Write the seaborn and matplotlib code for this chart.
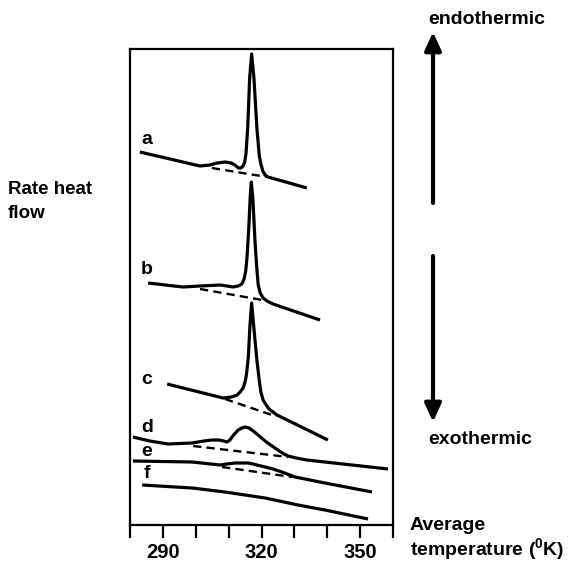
import numpy as np
import pandas as pd
import matplotlib
matplotlib.use("Agg")
import matplotlib.pyplot as plt
import seaborn as sns

# ---- data (temperature in K, heat-flow signal in arbitrary units) ----
a_T = [283.0, 301.3, 304.3, 306.5, 308.9, 310.8, 311.9, 313.0, 313.7, 314.4, 314.9, 315.3, 315.8, 316.4, 317.0, 317.7, 318.6, 319.3, 319.8, 320.4, 321.1, 322.0, 333.8]
a_S = [373, 359, 360, 362, 363, 362, 360, 357, 357, 359, 363, 372, 397, 447, 471, 447, 397, 370, 361, 354, 350, 348, 337]
a_base_T = [304.9, 321.7]
a_base_S = [357, 348]

b_T = [285.5, 296.1, 301.3, 307.4, 309.5, 311.3, 312.9, 314.0, 314.7, 315.2, 315.6, 316.1, 316.6, 316.9, 317.4, 318.0, 318.5, 319.0, 319.6, 320.5, 321.7, 323.5, 337.8]
b_S = [242, 238, 239, 240, 239, 238, 239, 241, 246, 254, 268, 295, 330, 343, 325, 285, 260, 240, 232, 227, 224, 221, 205]
b_base_T = [301.3, 320.2]
b_base_S = [236, 225]

c_T = [291.3, 308.3, 310.9, 312.6, 313.5, 314.4, 315.0, 315.4, 316.0, 316.5, 317.0, 317.6, 318.5, 319.3, 319.8, 320.5, 321.4, 322.3, 324.7, 340.2]
c_S = [141, 127, 128, 130, 133, 137, 143, 150, 168, 200, 222, 200, 168, 145, 133, 125, 120, 116, 110, 85]
c_base_T = [308.9, 323.2]
c_base_S = [126, 110]

d_T = [280.9, 286.0, 291.6, 298.9, 302.5, 304.9, 307.0, 308.5, 309.5, 310.4, 311.5, 312.9, 314.0, 315.0, 316.2, 317.5, 319.3, 321.1, 323.2, 325.0, 326.8, 328.1, 330.5, 333.8, 358.5]
d_S = [88, 84, 81, 82, 84, 85, 85, 84, 83, 85, 90, 95, 97, 98, 97, 94, 89, 84, 79, 75, 71, 69, 67, 65, 56]
d_base_T = [299.2, 328.1]
d_base_S = [79, 68]

e_T = [280.9, 298.9, 307.4, 309.5, 311.9, 315.9, 317.5, 318.6, 321.1, 323.5, 326.2, 330.2, 339.3, 353.6]
e_S = [64, 63, 60, 61, 62, 62, 61, 60, 58, 56, 53, 48, 42, 33]
e_base_T = [308.0, 329.3]
e_base_S = [58, 48]

f_T = [283.7, 298.9, 308.9, 321.1, 331.1, 339.3, 352.4]
f_S = [40, 37, 33, 27, 20, 15, 6]

curve_names = ["a", "b", "c", "d", "e", "f"]
label_T = [285.0, 285.1, 285.1, 285.1, 285.1, 285.1]
label_S = [385, 255, 145, 97, 74, 52]

xticks_major = [290, 320, 350]
xticks_minor = [280, 300, 310, 330, 340, 360]

# ---- build tables ----
solid = pd.concat([
    pd.DataFrame({"T": t, "S": s, "curve": n})
    for n, t, s in [("a", a_T, a_S), ("b", b_T, b_S), ("c", c_T, c_S),
                    ("d", d_T, d_S), ("e", e_T, e_S), ("f", f_T, f_S)]
], ignore_index=True)
dashed = pd.concat([
    pd.DataFrame({"T": t, "S": s, "curve": n})
    for n, t, s in [("a", a_base_T, a_base_S), ("b", b_base_T, b_base_S),
                    ("c", c_base_T, c_base_S), ("d", d_base_T, d_base_S),
                    ("e", e_base_T, e_base_S)]
], ignore_index=True)

sns.set_style("white")
plt.rcParams["font.family"] = ["Liberation Sans", "DejaVu Sans"]
plt.rcParams["mathtext.fontset"] = "custom"
plt.rcParams["mathtext.rm"] = "Liberation Sans:bold"
plt.rcParams["mathtext.it"] = "Liberation Sans:bold"
plt.rcParams["text.color"] = "black"
plt.rcParams["xtick.color"] = "black"
plt.rcParams["xtick.labelcolor"] = "black"

W, H = 568, 562
fig = plt.figure(figsize=(W / 100, H / 100), dpi=100)
ax = fig.add_axes([130 / W, 1 - 525 / H, (393 - 130) / W, (525 - 49) / H])

sns.lineplot(data=solid, x="T", y="S", units="curve", estimator=None, sort=False,
             color="black", lw=2.3, ax=ax)
sns.lineplot(data=dashed, x="T", y="S", units="curve", estimator=None, sort=False,
             color="black", lw=1.7, ax=ax)
for line in ax.lines[-5:]:
    line.set_linestyle((0, (3.5, 2.2)))
for line in ax.lines:
    line.set_solid_joinstyle("round")
    line.set_solid_capstyle("butt")

for n, t, s in zip(curve_names, label_T, label_S):
    ax.text(t, s, n, fontsize=14, ha="center", va="center", fontweight="bold")

ax.set_xlim(280, 360)
ax.set_ylim(0, 476)
ax.set_xticks(xticks_major)
ax.set_xticks(xticks_minor, minor=True)
ax.set_xticklabels([str(v) for v in xticks_major], fontsize=14.5, fontweight="bold")
ax.tick_params(axis="x", which="both", direction="out", length=9, width=1.6,
               bottom=True, pad=4, color="black")
ax.set_yticks([])
ax.set_xlabel("")
ax.set_ylabel("")
for sp in ax.spines.values():
    sp.set_color("black")
    sp.set_linewidth(1.6)

# left label
fig.text(8 / W, 1 - 190 / H, "Rate heat", fontsize=13.5, ha="left", va="center",
         fontweight="bold")
fig.text(8 / W, 1 - 214 / H, "flow", fontsize=13.5, ha="left", va="center",
         fontweight="bold")

# x label
fig.text(410 / W, 1 - 526 / H, "Average", fontsize=14, ha="left", va="center",
         fontweight="bold")
fig.text(410 / W, 1 - 549 / H, r"temperature ($\mathrm{^{0}}$K)", fontsize=14,
         ha="left", va="center", fontweight="bold")

# arrows
arrow_style = "-|>,head_length=0.55,head_width=0.25"
ax.annotate("", xy=(433, H - 32), xytext=(433, H - 203), xycoords="figure pixels",
            textcoords="figure pixels",
            arrowprops=dict(arrowstyle=arrow_style, lw=3, color="black",
                            mutation_scale=20, shrinkA=0, shrinkB=0))
ax.annotate("", xy=(433, H - 422), xytext=(433, H - 256), xycoords="figure pixels",
            textcoords="figure pixels",
            arrowprops=dict(arrowstyle=arrow_style, lw=3, color="black",
                            mutation_scale=20, shrinkA=0, shrinkB=0))
fig.text(487 / W, 1 - 19 / H, "endothermic", fontsize=14, ha="center", va="center",
         fontweight="bold")
fig.text(480 / W, 1 - 440 / H, "exothermic", fontsize=14, ha="center", va="center",
         fontweight="bold")

fig.savefig("out.png", dpi=100)
